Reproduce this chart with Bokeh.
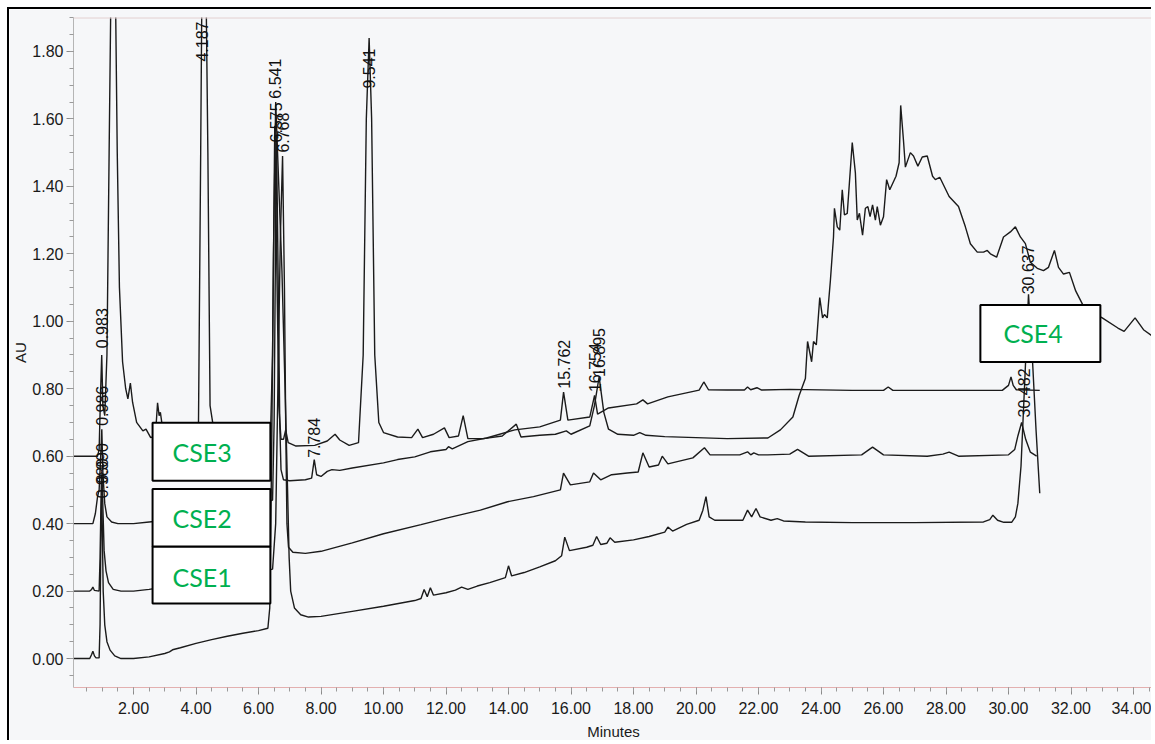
import math
from bokeh.plotting import figure
from bokeh.models import (Range1d, SingleIntervalTicker, PrintfTickFormatter,
                          BoxAnnotation, Label, Span, ColumnDataSource)
from bokeh.core.properties import value
from bokeh.embed import file_html
from bokeh.resources import INLINE

# ---------------- data (retention time in minutes, absorbance in AU) ----------------
t_a = [0.08, 0.60, 0.66, 0.70, 0.75, 0.80, 0.90, 0.93, 0.96, 0.98,
       1.00, 1.03, 1.08, 1.15, 1.25, 1.40, 1.60, 2.00, 2.50, 3.00,
       3.15, 3.25, 3.50, 4.00, 4.50, 5.00, 5.50, 6.00, 6.30, 6.36,
       6.42, 6.48, 6.55, 6.65, 6.75, 6.85, 6.93, 6.98, 7.03, 7.15,
       7.35, 7.60, 8.00, 9.00, 10.00, 11.00, 11.20, 11.30, 11.40, 11.50,
       11.60, 12.00, 12.30, 12.50, 12.70, 13.00, 13.40, 13.90, 14.00, 14.10,
       14.50, 15.00, 15.50, 15.70, 15.80, 15.95, 16.50, 16.70, 16.82, 16.95,
       17.15, 17.25, 17.40, 18.00, 18.50, 19.00, 19.10, 19.25, 19.70, 20.10,
       20.22, 20.32, 20.42, 20.60, 21.50, 21.65, 21.78, 21.92, 22.05, 22.40,
       22.60, 22.80, 23.50, 25.00, 27.00, 29.20, 29.40, 29.50, 29.65, 29.85,
       30.10, 30.22, 30.30, 30.40, 30.50, 30.64, 30.77, 30.88, 31.00]
au_a = [0.000, 0.000, 0.012, 0.022, 0.008, 0.002, 0.002, 0.100, 0.400, 0.480,
        0.400, 0.200, 0.100, 0.050, 0.025, 0.008, 0.000, 0.000, 0.005, 0.015,
        0.020, 0.026, 0.032, 0.045, 0.056, 0.066, 0.075, 0.083, 0.090, 0.150,
        0.600, 1.200, 1.650, 1.400, 1.150, 0.800, 0.500, 0.300, 0.200, 0.150,
        0.130, 0.123, 0.125, 0.140, 0.155, 0.172, 0.178, 0.205, 0.183, 0.210,
        0.188, 0.195, 0.203, 0.212, 0.205, 0.215, 0.225, 0.240, 0.275, 0.245,
        0.255, 0.272, 0.290, 0.305, 0.360, 0.320, 0.330, 0.336, 0.362, 0.338,
        0.342, 0.358, 0.345, 0.352, 0.362, 0.375, 0.390, 0.378, 0.398, 0.410,
        0.440, 0.480, 0.420, 0.410, 0.410, 0.440, 0.420, 0.445, 0.420, 0.410,
        0.415, 0.408, 0.405, 0.403, 0.403, 0.405, 0.412, 0.425, 0.410, 0.404,
        0.404, 0.420, 0.460, 0.570, 0.780, 1.080, 0.880, 0.680, 0.490]

t_b = [0.08, 0.60, 0.66, 0.70, 0.75, 0.90, 0.93, 0.97, 0.99, 1.02,
       1.06, 1.12, 1.20, 1.35, 1.60, 2.00, 2.50, 3.00, 4.00, 5.00,
       6.00, 6.45, 6.55, 6.62, 6.70, 6.77, 6.83, 6.87, 6.91, 6.96,
       7.10, 7.50, 8.00, 9.00, 10.00, 11.20, 12.05, 13.10, 13.97, 14.80,
       15.66, 15.76, 15.98, 16.60, 16.72, 16.95, 17.30, 17.80, 18.15, 18.30,
       18.50, 18.80, 18.92, 19.10, 19.90, 20.27, 20.45, 21.40, 21.65, 21.75,
       21.85, 22.00, 22.30, 23.00, 23.25, 23.60, 25.30, 25.65, 26.00, 27.40,
       27.90, 28.10, 28.40, 30.00, 30.20, 30.30, 30.42, 30.55, 30.70, 30.90]
au_b = [0.200, 0.200, 0.205, 0.212, 0.202, 0.200, 0.300, 0.520, 0.550, 0.450,
        0.320, 0.260, 0.225, 0.205, 0.200, 0.200, 0.205, 0.212, 0.225, 0.240,
        0.255, 0.265, 0.400, 0.800, 1.250, 1.490, 1.100, 0.700, 0.400, 0.330,
        0.315, 0.312, 0.318, 0.343, 0.370, 0.397, 0.417, 0.440, 0.465, 0.480,
        0.500, 0.550, 0.515, 0.524, 0.550, 0.530, 0.545, 0.550, 0.553, 0.610,
        0.568, 0.574, 0.600, 0.577, 0.595, 0.625, 0.604, 0.604, 0.613, 0.604,
        0.610, 0.604, 0.604, 0.606, 0.620, 0.600, 0.604, 0.627, 0.604, 0.600,
        0.606, 0.612, 0.600, 0.604, 0.620, 0.660, 0.700, 0.650, 0.612, 0.600]

t_c = [0.08, 0.70, 0.78, 0.85, 0.90, 0.95, 0.986, 1.02, 1.08, 1.15,
       1.30, 1.50, 2.00, 2.50, 3.00, 4.00, 5.00, 6.00, 6.45, 6.50,
       6.55, 6.575, 6.62, 6.68, 6.72, 6.80, 7.00, 7.50, 7.70, 7.784,
       7.86, 8.00, 8.20, 8.35, 8.60, 9.00, 10.00, 10.45, 11.00, 11.50,
       12.00, 12.08, 12.20, 12.70, 13.30, 14.20, 15.00, 15.66, 15.762, 15.90,
       16.60, 16.754, 16.85, 17.20, 18.10, 18.30, 18.45, 19.10, 20.10, 20.25,
       20.40, 21.00, 21.55, 21.65, 21.75, 21.95, 22.10, 23.00, 25.00, 26.00,
       26.15, 26.30, 28.00, 29.80, 30.00, 30.08, 30.15, 30.25, 31.00]
au_c = [0.400, 0.400, 0.430, 0.480, 0.500, 0.600, 0.680, 0.550, 0.460, 0.420,
        0.405, 0.400, 0.400, 0.405, 0.410, 0.425, 0.440, 0.455, 0.470, 0.700,
        1.300, 1.550, 1.200, 0.700, 0.560, 0.530, 0.527, 0.530, 0.535, 0.590,
        0.545, 0.540, 0.555, 0.560, 0.558, 0.565, 0.580, 0.590, 0.598, 0.613,
        0.620, 0.628, 0.622, 0.643, 0.654, 0.678, 0.687, 0.707, 0.790, 0.707,
        0.716, 0.780, 0.725, 0.743, 0.755, 0.767, 0.755, 0.776, 0.796, 0.820,
        0.797, 0.796, 0.796, 0.805, 0.797, 0.803, 0.796, 0.798, 0.795, 0.795,
        0.805, 0.795, 0.795, 0.795, 0.810, 0.835, 0.810, 0.797, 0.795]

t_d = [0.08, 0.85, 0.90, 0.95, 0.983, 1.02, 1.08, 1.15, 1.22, 1.28,
       1.42, 1.48, 1.55, 1.65, 1.75, 1.82, 1.90, 1.97, 2.10, 2.30,
       2.40, 2.55, 2.70, 2.77, 2.82, 2.86, 2.95, 3.50, 4.00, 4.08,
       4.15, 4.19, 4.32, 4.38, 4.45, 4.60, 5.50, 6.20, 6.38, 6.45,
       6.52, 6.58, 6.65, 6.72, 6.80, 6.87, 6.95, 7.20, 7.80, 8.20,
       8.45, 8.60, 8.90, 9.20, 9.35, 9.45, 9.54, 9.62, 9.72, 9.85,
       10.00, 10.45, 10.90, 11.10, 11.25, 11.60, 11.95, 12.10, 12.40, 12.55,
       12.70, 13.20, 13.80, 14.25, 14.40, 15.00, 15.50, 15.85, 16.00, 16.60,
       16.75, 16.90, 17.05, 17.20, 17.50, 18.00, 18.20, 18.40, 19.00, 20.00,
       21.00, 22.30, 22.70, 23.10, 23.30, 23.50, 23.57, 23.70, 23.76, 23.85,
       23.96, 24.05, 24.11, 24.20, 24.30, 24.40, 24.43, 24.52, 24.60, 24.68,
       24.75, 24.84, 25.00, 25.10, 25.16, 25.23, 25.33, 25.42, 25.50, 25.57,
       25.65, 25.74, 25.80, 25.90, 26.00, 26.10, 26.20, 26.40, 26.50, 26.55,
       26.64, 26.70, 26.86, 26.96, 27.10, 27.24, 27.40, 27.57, 27.66, 27.80,
       28.10, 28.40, 28.62, 28.78, 29.00, 29.20, 29.32, 29.42, 29.62, 29.84,
       30.06, 30.22, 30.38, 30.54, 30.70, 30.92, 31.12, 31.28, 31.47, 31.60,
       31.76, 31.95, 32.15, 32.37, 32.60, 33.00, 33.50, 33.70, 34.05, 34.32,
       34.70]
au_d = [0.600, 0.600, 0.620, 0.800, 0.900, 0.750, 0.720, 0.900, 1.500, 2.000,
        2.000, 1.500, 1.100, 0.880, 0.800, 0.770, 0.817, 0.760, 0.700, 0.675,
        0.680, 0.655, 0.660, 0.758, 0.720, 0.730, 0.670, 0.650, 0.650, 0.700,
        1.500, 2.000, 2.000, 1.500, 0.750, 0.660, 0.645, 0.640, 0.650, 0.900,
        1.580, 1.200, 0.750, 0.650, 0.650, 0.678, 0.640, 0.630, 0.632, 0.645,
        0.665, 0.648, 0.632, 0.640, 0.900, 1.600, 1.840, 1.600, 0.900, 0.700,
        0.670, 0.657, 0.655, 0.680, 0.655, 0.665, 0.684, 0.655, 0.660, 0.720,
        0.652, 0.652, 0.660, 0.695, 0.657, 0.662, 0.665, 0.675, 0.665, 0.690,
        0.750, 0.835, 0.730, 0.680, 0.665, 0.662, 0.670, 0.662, 0.658, 0.655,
        0.652, 0.654, 0.678, 0.716, 0.780, 0.830, 0.940, 0.880, 0.940, 0.930,
        1.070, 1.010, 1.020, 1.010, 1.120, 1.250, 1.335, 1.280, 1.270, 1.390,
        1.315, 1.320, 1.530, 1.440, 1.300, 1.320, 1.255, 1.335, 1.340, 1.310,
        1.345, 1.300, 1.340, 1.285, 1.310, 1.420, 1.390, 1.430, 1.470, 1.640,
        1.535, 1.457, 1.500, 1.490, 1.460, 1.487, 1.490, 1.430, 1.420, 1.427,
        1.370, 1.340, 1.280, 1.230, 1.205, 1.205, 1.210, 1.200, 1.190, 1.250,
        1.265, 1.280, 1.250, 1.230, 1.175, 1.157, 1.150, 1.160, 1.210, 1.160,
        1.140, 1.145, 1.090, 1.050, 1.030, 1.010, 0.980, 0.970, 1.010, 0.975,
        0.950]

# peak annotations (retention-time labels)
peak_labels = ["0.983", "0.986", "0.990", "0.980", "4.187", "6.541", "6.575", "6.768",
               "7.784", "9.541", "15.762", "16.754", "16.895", "30.482", "30.637"]
peak_times = [0.983, 0.986, 0.990, 0.980, 4.187, 6.541, 6.575, 6.768,
              7.784, 9.541, 15.762, 16.754, 16.895, 30.482, 30.637]
label_base_au = [0.92, 0.69, 0.52, 0.475, 1.77, 1.66, 1.53, 1.50,
                 0.595, 1.69, 0.80, 0.79, 0.835, 0.715, 1.08]

sample_names = ["CSE1", "CSE2", "CSE3", "CSE4"]

# ---------------- figure ----------------
BG = "#f6f7f9"
p = figure(width=1144, height=733, output_backend="svg", toolbar_location=None,
           x_range=Range1d(0.08, 34.64), y_range=Range1d(-0.0858, 1.9006),
           min_border_left=64, min_border_right=0, min_border_top=8, min_border_bottom=54,
           background_fill_color=BG, border_fill_color=BG)
p.outline_line_color = None
p.grid.visible = False
p.styles = {"margin-left": "7px", "margin-top": "7px",
            "border-left": "2px solid #000", "border-top": "2px solid #000"}

line_col = "#1b1b1b"
for t, au in [(t_a, au_a), (t_b, au_b), (t_c, au_c), (t_d, au_d)]:
    assert len(t) == len(au)
    p.line(t, au, line_color=line_col, line_width=1.4)

# top edge of the plot frame
p.add_layout(Span(location=1.9, dimension="width", line_color="#e2cfcf", line_width=1.5))

# axes
xa = p.xaxis[0]
xa.ticker = SingleIntervalTicker(interval=2, num_minor_ticks=4)
xa.formatter = PrintfTickFormatter(format="%.2f")
xa.axis_label = "Minutes"
ya = p.yaxis[0]
ya.ticker = SingleIntervalTicker(interval=0.2, num_minor_ticks=4)
ya.formatter = PrintfTickFormatter(format="%.2f")
ya.axis_label = "AU"
for ax in (xa, ya):
    ax.major_tick_in = 0
    ax.minor_tick_in = 0
    ax.major_tick_out = 7
    ax.minor_tick_out = 4
    ax.major_tick_line_color = "#8a8a8a"
    ax.minor_tick_line_color = "#9a9a9a"
    ax.major_label_text_font = "Liberation Sans"
    ax.major_label_text_font_size = "16px"
    ax.major_label_text_color = "#1a1a1a"
    ax.axis_label_text_font = "Liberation Sans"
    ax.axis_label_text_font_size = "15px"
    ax.axis_label_text_font_style = "normal"
    ax.axis_label_text_color = "#1a1a1a"
xa.major_label_standoff = 7
xa.axis_label_standoff = 6
ya.major_label_standoff = 3
ya.axis_label_standoff = 0
xa.axis_line_color = "#e3b0b0"
ya.axis_line_color = "#b5b5b5"

# peak retention-time labels (vertical)
src = ColumnDataSource(dict(x=peak_times, y=label_base_au, txt=peak_labels))
p.text(x="x", y="y", text="txt", source=src, angle=math.pi / 2,
       text_align="left", text_baseline="middle",
       text_font=value("Liberation Sans"), text_font_size="16px", text_color="#111111")

# sample boxes
box_specs = [  # (left, right, bottom, top, text_x, text_y)
    (2.61, 6.38, 0.163, 0.332, 3.25, 0.243),
    (2.61, 6.38, 0.332, 0.503, 3.25, 0.417),
    (2.61, 6.38, 0.527, 0.699, 3.25, 0.613),
    (29.10, 32.94, 0.879, 1.048, 29.84, 0.965),
]
for name, (l, r, b, tp, tx, ty) in zip(sample_names, box_specs):
    p.add_layout(BoxAnnotation(left=l, right=r, bottom=b, top=tp, fill_color="white",
                               fill_alpha=1.0, line_color="black", line_width=2, line_alpha=1.0))
    p.add_layout(Label(x=tx, y=ty, text=name, text_color="#00b050", text_font="Lato",
                       text_font_size="25px", text_baseline="middle", text_align="left"))

open("out.html", "w").write(file_html(p, INLINE))
